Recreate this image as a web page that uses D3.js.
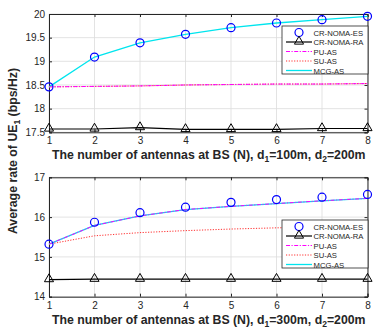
<!DOCTYPE html>
<html><head><meta charset="utf-8">
<script src="https://cdn.jsdelivr.net/npm/d3@7"></script>
<style>body{margin:0;background:#fff;} svg{display:block;font-family:"Liberation Sans",Arial,sans-serif;}</style>
</head><body>
<svg id="c" width="373" height="329"></svg>
<script>
const antennas = [1,2,3,4,5,6,7,8];
// Top panel (d1=100m, d2=200m)
const topES  = [18.46,19.09,19.39,19.57,19.71,19.81,19.88,19.95];
const topRA  = [17.57,17.57,17.60,17.56,17.56,17.56,17.58,17.58];
const topPU  = [18.46,18.47,18.48,18.50,18.51,18.52,18.52,18.53];
const topSU  = [18.46,18.47,18.48,18.50,18.51,18.52,18.52,18.53];
const topMCG = [18.46,19.09,19.39,19.57,19.71,19.81,19.88,19.95];
// Bottom panel (d1=300m, d2=200m)
const botES  = [15.32,15.87,16.11,16.25,16.37,16.44,16.50,16.57];
const botRA  = [14.43,14.44,14.44,14.44,14.44,14.44,14.44,14.44];
const botPU  = [15.32,15.79,16.03,16.19,16.27,16.34,16.41,16.47];
const botSU  = [15.32,15.53,15.61,15.66,15.70,15.73,15.75,15.77];
const botMCG = [15.32,15.79,16.03,16.19,16.27,16.34,16.41,16.47];
const topYTicks = [17.5,18,18.5,19,19.5,20];
const botYTicks = [14,15,16,17];
const legendNames = ["CR-NOMA-ES","CR-NOMA-RA","PU-AS","SU-AS","MCG-AS"];
const xLabelTop = ["The number of antennas at BS (N), d","1","=100m, d","2","=200m"];
const xLabelBot = ["The number of antennas at BS (N), d","1","=300m, d","2","=200m"];

const svg = d3.select("#c");
const L = 49, R = 367.5;

function panel(y0, y1, dom, yticks, data, xlab, legY){
  const x = d3.scaleLinear().domain([1,8]).range([L,R]);
  const y = d3.scaleLinear().domain(dom).range([y1,y0]);
  const g = svg.append("g");
  // grid
  g.append("g").selectAll("line").data(antennas).join("line")
    .attr("x1",d=>x(d)).attr("x2",d=>x(d)).attr("y1",y0).attr("y2",y1)
    .attr("stroke","#dcdcdc").attr("stroke-width",0.8);
  g.append("g").selectAll("line").data(yticks).join("line")
    .attr("x1",L).attr("x2",R).attr("y1",d=>y(d)).attr("y2",d=>y(d))
    .attr("stroke","#dcdcdc").attr("stroke-width",0.8);
  // axes
  const ax = g.append("g").attr("transform",`translate(0,${y1})`)
    .call(d3.axisBottom(x).tickValues(antennas).tickSize(-3).tickPadding(5).tickFormat(d3.format("d")));
  const ay = g.append("g").attr("transform",`translate(${L},0)`)
    .call(d3.axisLeft(y).tickValues(yticks).tickSize(-3).tickPadding(4).tickFormat(d=>d));
  const ayr = g.append("g").attr("transform",`translate(${R},0)`)
    .call(d3.axisRight(y).tickValues(yticks).tickSize(-3).tickFormat(""));
  const axt = g.append("g").attr("transform",`translate(0,${y0})`)
    .call(d3.axisTop(x).tickValues(antennas).tickSize(-3).tickFormat(""));
  [ax,ay,ayr,axt].forEach(a=>{
    a.select(".domain").attr("stroke","#262626").attr("stroke-width",1);
    a.selectAll(".tick line").attr("stroke","#262626");
    a.selectAll("text").attr("font-size",10).attr("fill","#262626").attr("font-family","Liberation Sans, Arial, sans-serif");
  });
  const line = d3.line().x((d,i)=>x(antennas[i])).y(d=>y(d));
  // series
  const [ES,RA,PU,SU,MCG] = data;
  g.append("path").attr("d",line(SU)).attr("fill","none").attr("stroke","#ff3030").attr("stroke-width",1).attr("stroke-dasharray","1.2,1.5");
  g.append("path").attr("d",line(MCG)).attr("fill","none").attr("stroke","#00e5ee").attr("stroke-width",1.3);
  g.append("path").attr("d",line(PU)).attr("fill","none").attr("stroke","#ff00ff").attr("stroke-width",1).attr("stroke-dasharray","4,1.5,1.2,1.5");
  g.append("path").attr("d",line(RA)).attr("fill","none").attr("stroke","#000").attr("stroke-width",1.2);
  const tri = d3.symbol().type(d3.symbolTriangle).size(36);
  g.append("g").selectAll("path").data(RA).join("path")
    .attr("transform",(d,i)=>`translate(${x(antennas[i])},${y(d)-0.5})`).attr("d",tri())
    .attr("fill","none").attr("stroke","#000").attr("stroke-width",1);
  g.append("g").selectAll("circle").data(ES).join("circle")
    .attr("cx",(d,i)=>x(antennas[i])).attr("cy",d=>y(d)).attr("r",4)
    .attr("fill","none").attr("stroke","#0000ff").attr("stroke-width",1.2);
  // x label
  const t = g.append("text").attr("x",(L+R)/2 + 0.5).attr("y",y1+27).attr("text-anchor","middle")
    .attr("font-size",12.3).attr("font-weight","bold").attr("fill","#262626");
  xlab.forEach((s,i)=>{
    const ts = t.append("tspan").text(s);
    if(i%2===1){ ts.attr("font-size",8.5).attr("dy",3); }
    else if(i>0){ ts.attr("dy",-3); }
  });
  // legend
  const lx0 = 282, lx1 = 368, lh = 48;
  const lg = g.append("g");
  lg.append("rect").attr("x",lx0).attr("y",legY).attr("width",lx1-lx0).attr("height",lh)
    .attr("fill","#fff").attr("stroke","#262626").attr("stroke-width",0.8);
  const styles = [
    {stroke:"none"},
    {stroke:"#000",dash:null,w:1.2},
    {stroke:"#ff00ff",dash:"4,1.5,1.2,1.5",w:1},
    {stroke:"#ff3030",dash:"1.2,1.5",w:1},
    {stroke:"#00e5ee",dash:null,w:1.3}
  ];
  legendNames.forEach((n,i)=>{
    const yy = legY + 6.5 + i*9.5;
    if(i>0){
      lg.append("line").attr("x1",286).attr("x2",312).attr("y1",yy).attr("y2",yy)
        .attr("stroke",styles[i].stroke).attr("stroke-width",styles[i].w)
        .attr("stroke-dasharray",styles[i].dash);
    }
    if(i===0) lg.append("circle").attr("cx",299).attr("cy",yy).attr("r",4).attr("fill","none").attr("stroke","#0000ff").attr("stroke-width",1.2);
    if(i===1) lg.append("path").attr("transform",`translate(299,${yy-0.5})`).attr("d",tri()).attr("fill","none").attr("stroke","#000");
    lg.append("text").attr("x",313.5).attr("y",yy+3).attr("font-size",7.7).attr("fill","#262626").text(n);
  });
}

panel(14, 132.3, [17.5,20], topYTicks, [topES,topRA,topPU,topSU,topMCG], xLabelTop, 26);
panel(177.3, 296.7, [14,17], botYTicks, [botES,botRA,botPU,botSU,botMCG], xLabelBot, 220);

// y label
const yl = svg.append("text").attr("transform","translate(17,151) rotate(-90)").attr("text-anchor","middle")
  .attr("font-size",12.3).attr("font-weight","bold").attr("fill","#262626");
yl.append("tspan").text("Average rate of UE");
yl.append("tspan").text("1").attr("font-size",8.5).attr("dy",3);
yl.append("tspan").text(" (bps/Hz)").attr("dy",-3);
</script>
</body></html>
